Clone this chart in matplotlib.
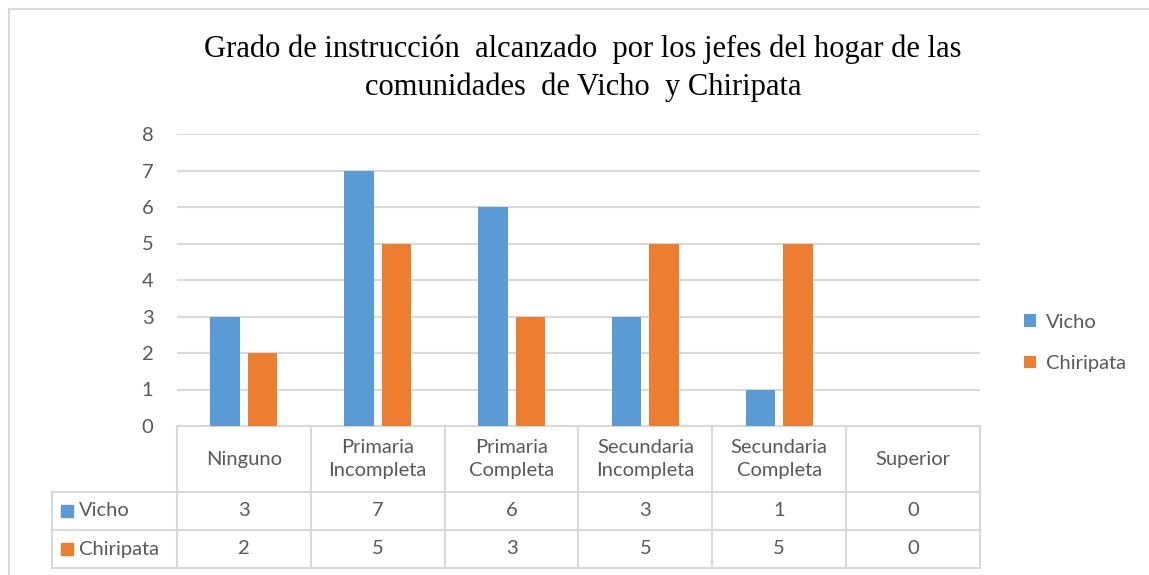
import numpy as np
import matplotlib.pyplot as plt
from matplotlib.lines import Line2D
from matplotlib.patches import Patch
from matplotlib.transforms import blended_transform_factory

categories = ["Ninguno", "Primaria\nIncompleta", "Primaria\nCompleta",
              "Secundaria\nIncompleta", "Secundaria\nCompleta", "Superior"]
series_names = ["Vicho", "Chiripata"]
vicho = [3, 7, 6, 3, 1, 0]
chiripata = [2, 5, 3, 5, 5, 0]
y_ticks = [0, 1, 2, 3, 4, 5, 6, 7, 8]
title = ("Grado de instrucción  alcanzado  por los jefes del hogar de las\n"
         "comunidades  de Vicho  y Chiripata")

BLUE = "#5b9bd5"
ORANGE = "#ed7d31"
TEXT = "#595959"
GRID = "#d9d9d9"
FONT = "Lato"
FS = 14.5

W, H = 1149, 575
fig = plt.figure(figsize=(W / 100, H / 100), dpi=100)

# plot area in pixels
left, right, top, bottom = 177, 980, 134, 426
ax = fig.add_axes([left / W, 1 - bottom / H, (right - left) / W, (bottom - top) / H])

x = np.arange(len(categories))
bw = 0.22
off = 0.14
ax.bar(x - off, vicho, width=bw, color=BLUE, zorder=3)
ax.bar(x + off, chiripata, width=bw, color=ORANGE, zorder=3)

ax.set_xlim(-0.5, len(categories) - 0.5)
ax.set_ylim(0, 8)
ax.set_yticks(y_ticks)
ax.set_yticklabels([str(t) for t in y_ticks], fontsize=FS, color=TEXT, family=FONT)
ax.tick_params(axis="y", length=0, pad=17)
ax.set_xticks([])
ax.yaxis.grid(True, color=GRID, lw=1.5, zorder=0)
for s in ax.spines.values():
    s.set_visible(False)

# data table below the plot
tr = blended_transform_factory(ax.transData, ax.transAxes)
ax_h = bottom - top
row_edges = [0, -(492 - bottom) / ax_h, -(530 - bottom) / ax_h, -(568 - bottom) / ax_h]
lab_left = -0.5 - (left - 52) / ((right - left) / len(categories))
x_edges = np.arange(len(categories) + 1) - 0.5

line_kw = dict(color=GRID, lw=1.5, transform=tr, clip_on=False, zorder=2)
ax.plot([x_edges[0], x_edges[-1]], [row_edges[0]] * 2, **line_kw)
for yy in row_edges[1:]:
    ax.plot([lab_left, x_edges[-1]], [yy] * 2, **line_kw)
for xx in x_edges:
    ax.plot([xx, xx], [row_edges[0], row_edges[-1]], **line_kw)
ax.plot([lab_left, lab_left], [row_edges[1], row_edges[-1]], **line_kw)

for i, cat in enumerate(categories):
    ax.text(i, (row_edges[0] + row_edges[1]) / 2, cat, transform=tr, ha="center",
            va="center", fontsize=FS, color=TEXT, family=FONT, linespacing=1.45)

for r, (name, vals, col) in enumerate(zip(series_names, [vicho, chiripata], [BLUE, ORANGE])):
    yc = (row_edges[r + 1] + row_edges[r + 2]) / 2
    ax.plot([lab_left + 0.11], [yc], marker="s", ms=8, color=col, transform=tr,
            clip_on=False, linestyle="none")
    ax.text(lab_left + 0.2, yc, name, transform=tr, ha="left", va="center",
            fontsize=FS, color=TEXT, family=FONT)
    for i, v in enumerate(vals):
        ax.text(i, yc, str(v), transform=tr, ha="center", va="center",
                fontsize=FS, color=TEXT, family=FONT)

# legend
handles = [Patch(facecolor=c, edgecolor="none") for c in (BLUE, ORANGE)]
fig.legend(handles, series_names, loc="center left",
           bbox_to_anchor=(1006 / W, 1 - 343 / H), frameon=False,
           handlelength=0.6, handleheight=0.6, handletextpad=0.5,
           labelspacing=1.2, prop={"family": FONT, "size": FS}, labelcolor=TEXT)

# title
fig.text(583 / W, 1 - 68 / H, title, ha="center", va="center",
         family="Liberation Serif", fontsize=22, color="black", linespacing=1.38)

# chart border (top and left visible)
fig.add_artist(Line2D([9 / W, 1], [1 - 9 / H] * 2, color=GRID, lw=1.5))
fig.add_artist(Line2D([9 / W] * 2, [0, 1 - 9 / H], color=GRID, lw=1.5))

fig.savefig("out.png", dpi=100)
